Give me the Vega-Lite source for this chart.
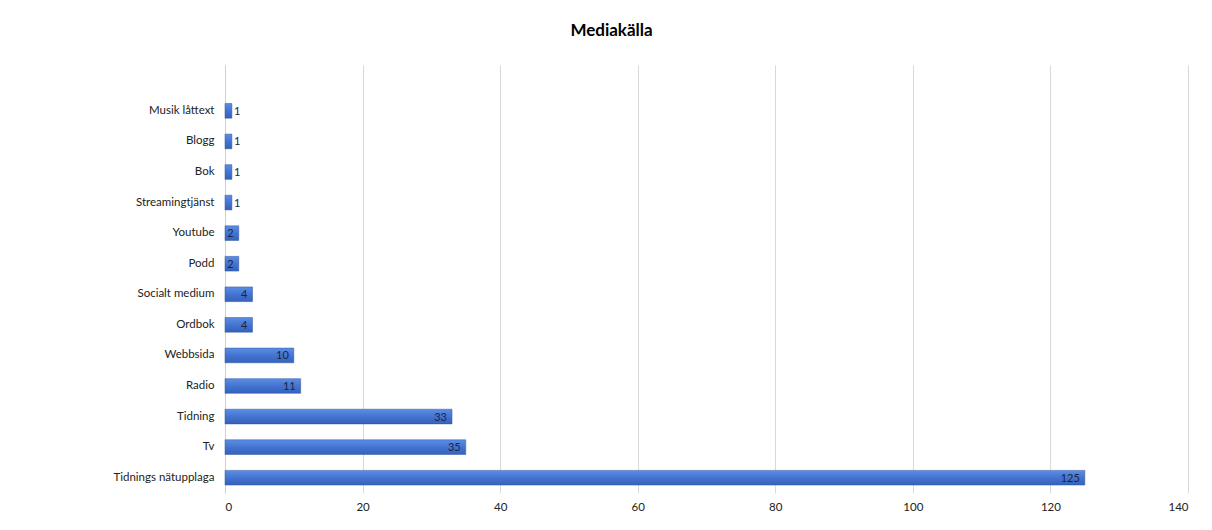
{
  "$schema": "https://vega.github.io/schema/vega-lite/v6.json",
  "width": 963,
  "height": 428,
  "autosize": {"type": "none"},
  "padding": {"left": 225, "top": 65, "right": 24, "bottom": 37},
  "background": "white",
  "title": {"text": "Mediakälla", "fontSize": 17, "fontWeight": "bold", "font": "Lato", "color": "#000000", "anchor": "middle", "dx": -95, "offset": 25},
  "data": {"values": [
    {"kalla": "Musik låttext", "antal": 1},
    {"kalla": "Blogg", "antal": 1},
    {"kalla": "Bok", "antal": 1},
    {"kalla": "Streamingtjänst", "antal": 1},
    {"kalla": "Youtube", "antal": 2},
    {"kalla": "Podd", "antal": 2},
    {"kalla": "Socialt medium", "antal": 4},
    {"kalla": "Ordbok", "antal": 4},
    {"kalla": "Webbsida", "antal": 10},
    {"kalla": "Radio", "antal": 11},
    {"kalla": "Tidning ", "antal": 33},
    {"kalla": "Tv", "antal": 35},
    {"kalla": "Tidnings nätupplaga", "antal": 125}
  ]},
  "encoding": {
    "y": {"field": "kalla", "type": "nominal", "title": null,
      "scale": {"domain": [" ", "Musik låttext", "Blogg", "Bok", "Streamingtjänst", "Youtube", "Podd", "Socialt medium", "Ordbok", "Webbsida", "Radio", "Tidning ", "Tv", "Tidnings nätupplaga"], "paddingInner": 0.52, "paddingOuter": 0.26},
      "axis": {"ticks": false, "domain": true, "domainColor": "#d0d0d0", "labelPadding": 11, "labelFont": "Lato", "labelFontSize": 11.5, "labelColor": "#222222", "grid": false}},
    "x": {"field": "antal", "type": "quantitative", "title": null,
      "scale": {"domain": [0, 140], "nice": false},
      "axis": {"values": [0, 20, 40, 60, 80, 100, 120, 140], "ticks": false, "domain": false, "grid": true, "gridColor": "#d9d9d9", "labelPadding": 8, "labelFont": "Lato", "labelFontSize": 11.5, "labelColor": "#222222"}}
  },
  "layer": [
    {"mark": {"type": "bar", "color": {"gradient": "linear", "x1": 0, "y1": 0, "x2": 0, "y2": 1, "stops": [{"offset": 0, "color": "#5b8ee6"}, {"offset": 0.5, "color": "#4474d0"}, {"offset": 1, "color": "#3462bd"}]}, "stroke": "#2f55a0", "strokeWidth": 0.5}},
    {"transform": [{"filter": "datum.antal > 1"}],
      "mark": {"type": "text", "align": "right", "baseline": "middle", "dx": -5, "dy": 1, "font": "Lato", "fontSize": 11, "color": "#1c2540"},
      "encoding": {"text": {"field": "antal", "type": "quantitative"}}},
    {"transform": [{"filter": "datum.antal <= 1"}],
      "mark": {"type": "text", "align": "left", "baseline": "middle", "dx": 2, "dy": 1, "font": "Lato", "fontSize": 11, "color": "#1c2540"},
      "encoding": {"text": {"field": "antal", "type": "quantitative"}}}
  ],
  "config": {"view": {"stroke": null}}
}
